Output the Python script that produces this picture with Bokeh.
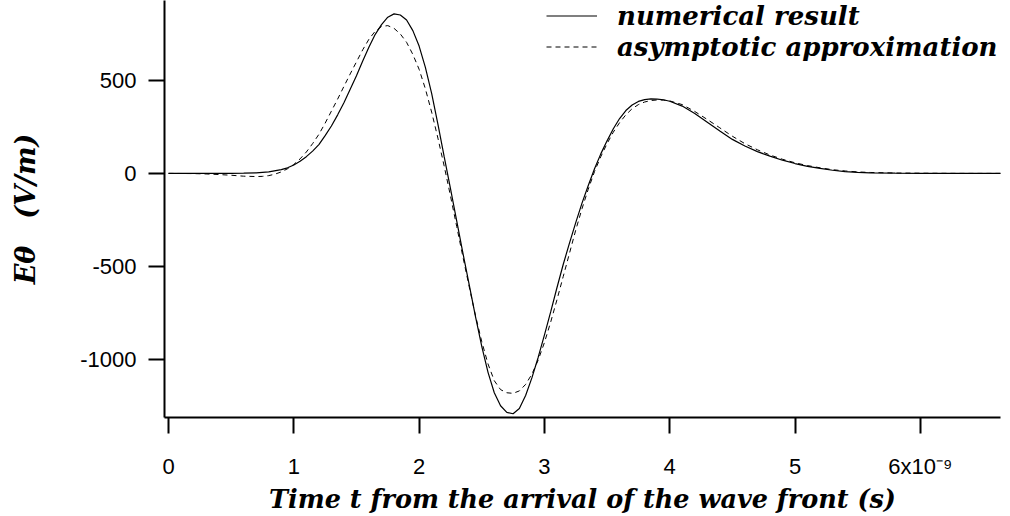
from bokeh.plotting import figure
from bokeh.models import Range1d, FixedTicker, Legend, LegendItem
from bokeh.embed import file_html
from bokeh.resources import INLINE

# ---- data (time in units of 1e-9 s, field in V/m) ----
t_numerical = [0.0, 0.2, 0.4, 0.5, 0.6, 0.7, 0.8, 0.9, 0.95, 1.0, 1.05, 1.1, 1.15, 1.2, 1.25, 1.3,
               1.35, 1.4, 1.45, 1.5, 1.55, 1.6, 1.65, 1.7, 1.75, 1.8, 1.85, 1.9, 1.95, 2.0, 2.05,
               2.1, 2.15, 2.2, 2.25, 2.3, 2.35, 2.4, 2.45, 2.5, 2.55, 2.6, 2.65, 2.7, 2.75, 2.8,
               2.85, 2.9, 2.95, 3.0, 3.05, 3.1, 3.15, 3.2, 3.25, 3.3, 3.35, 3.4, 3.45, 3.5, 3.55,
               3.6, 3.65, 3.7, 3.75, 3.8, 3.85, 3.9, 3.95, 4.0, 4.1, 4.2, 4.3, 4.4, 4.5, 4.6, 4.7,
               4.8, 4.9, 5.0, 5.1, 5.2, 5.3, 5.4, 5.5, 5.6, 5.8, 6.0, 6.3, 6.66]
e_numerical = [0, 0, 0, 0, 1, 3, 8, 20, 30, 45, 65, 90, 120, 155, 203, 255,
               315, 380, 452, 525, 605, 680, 748, 800, 840, 858, 852, 825, 768, 685, 570,
               430, 265, 90, -80, -255, -430, -600, -770, -930, -1070, -1180, -1250, -1285, -1293, -1265,
               -1195, -1100, -990, -870, -745, -615, -490, -375, -265, -160, -65, 25, 105, 175, 240,
               295, 338, 368, 387, 397, 401, 400, 396, 388, 362, 322, 275, 228, 183, 147, 117,
               93, 71, 53, 38, 27, 17, 10, 6, 3, 1, 0, 0, 0]

t_asymptotic = [0.0, 0.2, 0.3, 0.4, 0.5, 0.6, 0.7, 0.75, 0.8, 0.85, 0.9, 0.95, 1.0, 1.05, 1.1, 1.15,
                1.2, 1.25, 1.3, 1.35, 1.4, 1.45, 1.5, 1.55, 1.6, 1.65, 1.7, 1.75, 1.8, 1.85, 1.9,
                1.95, 2.0, 2.05, 2.1, 2.15, 2.2, 2.25, 2.3, 2.35, 2.4, 2.45, 2.5, 2.55, 2.6, 2.65,
                2.7, 2.75, 2.8, 2.85, 2.9, 2.95, 3.0, 3.05, 3.1, 3.15, 3.2, 3.25, 3.3, 3.35, 3.4,
                3.45, 3.5, 3.55, 3.6, 3.65, 3.7, 3.75, 3.8, 3.85, 3.9, 3.95, 4.0, 4.1, 4.2, 4.3,
                4.4, 4.5, 4.6, 4.7, 4.8, 4.9, 5.0, 5.1, 5.2, 5.3, 5.4, 5.5, 5.6, 5.8, 6.0, 6.3, 6.66]
e_asymptotic = [0, -1, -3, -6, -10, -15, -17, -16, -12, -4, 8, 25, 48, 78, 115, 160,
                210, 270, 335, 400, 468, 535, 600, 665, 722, 765, 790, 795, 780, 750, 705,
                640, 560, 455, 330, 190, 40, -120, -285, -450, -610, -765, -905, -1025, -1115, -1163,
                -1180, -1183, -1170, -1135, -1080, -1005, -910, -800, -680, -555, -430, -305, -190, -85, 10,
                90, 160, 222, 273, 315, 348, 370, 384, 392, 395, 394, 390, 370, 333, 290,
                245, 200, 160, 127, 99, 76, 57, 42, 30, 20, 13, 8, 5, 2, 1, 0, 0]

x_ticks = [0, 1, 2, 3, 4, 5, 6]
x_tick_labels = {0: "0", 1: "1", 2: "2", 3: "3", 4: "4", 5: "5", 6: "6x10\u207b\u2079"}
y_ticks = [-1000, -500, 0, 500]
y_tick_labels = {-1000: "-1000", -500: "-500", 0: "0", 500: "500"}
series_names = ["numerical result", "asymptotic approximation"]
x_title = "Time t from the arrival of the wave front (s)"
y_title = "E\u03b8\u2003(V/m)"

# ---- figure ----
X0, X1 = -0.032, 6.64
Y0, Y1 = -1313, 930
p = figure(width=1010, height=516, output_backend="svg", toolbar_location=None,
           x_range=Range1d(X0, X1), y_range=Range1d(Y0, Y1),
           min_border_left=164, min_border_right=10, min_border_top=0, min_border_bottom=97)
p.xgrid.visible = False
p.ygrid.visible = False
p.outline_line_color = None
p.background_fill_color = "white"
p.border_fill_color = "white"

SERIF = "DejaVu Serif"
FS = "25.5px"

for ax in (p.xaxis[0], p.yaxis[0]):
    ax.axis_line_width = 2
    ax.axis_line_color = "black"
    ax.major_tick_line_width = 2
    ax.major_tick_line_color = "black"
    ax.major_tick_in = 0
    ax.major_tick_out = 16
    ax.minor_tick_out = 0
    ax.minor_tick_in = 0
    ax.major_label_text_font = "Liberation Sans"
    ax.major_label_text_font_size = "22px"
    ax.major_label_text_color = "black"
    ax.axis_label_text_font = SERIF
    ax.axis_label_text_font_style = "bold italic"
    ax.axis_label_text_color = "black"

p.xaxis.ticker = FixedTicker(ticks=x_ticks, minor_ticks=[])
p.xaxis.major_label_overrides = x_tick_labels
p.xaxis.major_label_standoff = 20
p.xaxis.axis_label = x_title
p.xaxis.axis_label_text_font_size = FS
p.xaxis.axis_label_standoff = 2

p.yaxis.ticker = FixedTicker(ticks=y_ticks, minor_ticks=[])
p.yaxis.major_label_overrides = y_tick_labels
p.yaxis.major_label_standoff = 12
p.yaxis.axis_label = y_title
p.yaxis.axis_label_text_font_size = "27px"
p.yaxis.axis_label_standoff = 36

r_num = p.line(t_numerical, e_numerical, line_color="black", line_width=1.2)
r_asy = p.line(t_asymptotic, e_asymptotic, line_color="black", line_width=1, line_dash="5 4")

legend = Legend(items=[LegendItem(label=series_names[0], renderers=[r_num]),
                       LegendItem(label=series_names[1], renderers=[r_asy])],
                location=(382, 355), padding=0, margin=0, spacing=0,
                glyph_width=51, glyph_height=31, label_height=31, label_standoff=20,
                label_text_font=SERIF, label_text_font_style="bold italic",
                label_text_font_size="26px", label_text_color="black",
                border_line_color=None, background_fill_alpha=0)
p.add_layout(legend, "center")

open("out.html", "w").write(file_html(p, INLINE))
